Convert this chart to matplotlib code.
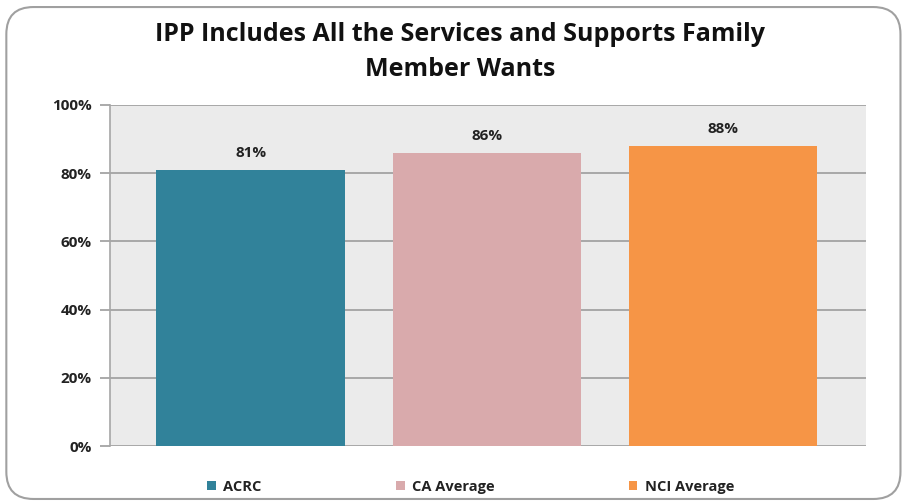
import matplotlib
matplotlib.use("Agg")
import matplotlib.pyplot as plt
from matplotlib.patches import FancyBboxPatch, Patch
from matplotlib.ticker import FuncFormatter

categories = ["ACRC", "CA Average", "NCI Average"]
values = [81, 86, 88]
colors = ["#31829A", "#D9AAAC", "#F69546"]
title = "IPP Includes All the Services and Supports Family\nMember Wants"

plt.rcParams['font.family'] = ['Open Sans', 'DejaVu Sans']

fig = plt.figure(figsize=(9.05, 5.03), dpi=100)
fig.patch.set_facecolor("white")

frame = FancyBboxPatch((0.007, 0.008), 0.988, 0.978, boxstyle="round,pad=0,rounding_size=0.03",
                       transform=fig.transFigure, facecolor="none", edgecolor="#A0A0A0",
                       linewidth=1.5, mutation_aspect=905/503, zorder=-1)
fig.patches.append(frame)

ax = fig.add_axes([110/905, 1-446/503, (866-110)/905, (446-105)/503])
ax.set_facecolor("#EBEBEB")
x = range(len(categories))
bars = ax.bar(x, values, width=0.8, color=colors, zorder=3)
ax.set_xlim(-0.597, 2.606)
ax.set_ylim(0, 100)
ax.set_yticks([0, 20, 40, 60, 80, 100])
ax.yaxis.set_major_formatter(FuncFormatter(lambda v, p: f"{int(v)}%"))
ax.grid(axis='y', color="#9C9C9C", linewidth=1.2, zorder=1)
ax.set_xticks([])
for s in ["top", "right", "bottom"]:
    ax.spines[s].set_visible(False)
ax.spines["left"].set_color("#A6A6A6")
ax.spines["left"].set_linewidth(1.2)
ax.tick_params(axis='y', length=7, color="#9C9C9C", width=1.2, pad=6, labelsize=11)
for lab in ax.get_yticklabels():
    lab.set_fontweight("bold")
    lab.set_color("#222222")

for b, v in zip(bars, values):
    ax.text(b.get_x()+b.get_width()/2, v+3, f"{v}%", ha="center", va="bottom",
            fontsize=11, fontweight="bold", color="#222222")

fig.text(0.508, 0.897, title, ha="center", va="center", fontsize=18, fontweight="bold",
         color="#111111", linespacing=1.5)

handles = [Patch(facecolor=c, edgecolor="none") for c in colors]
fig.legend(handles, categories, loc="center", bbox_to_anchor=(0.52, 0.032), ncol=3,
           frameon=False, prop={'weight': 'bold', 'size': 10.5}, handlelength=0.6,
           handleheight=0.6, columnspacing=9.2, handletextpad=0.5, labelcolor="#222222")

fig.savefig("out.png", dpi=100)
